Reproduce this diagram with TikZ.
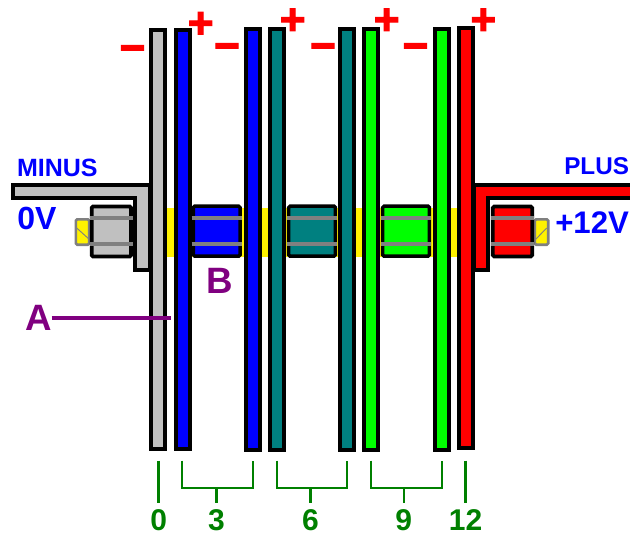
\documentclass[tikz,border=0pt]{standalone}
\usepackage{fontspec}
\setmainfont{Liberation Sans}
\newfontfamily\signfont[BoldFeatures={FakeBold=2.5}]{Liberation Sans}
\definecolor{plategray}{RGB}{192,192,192}
\definecolor{bandgray}{RGB}{128,128,128}
\definecolor{tagpurple}{RGB}{128,0,128}
\definecolor{dimgreen}{RGB}{0,128,0}
\definecolor{tealplate}{RGB}{0,128,128}
\begin{document}
\begin{tikzpicture}[x=0.75pt,y=-0.75pt]
  \tikzstyle{every node}=[inner sep=0pt,outer sep=0pt]
  \tikzstyle{plate}=[rectangle,draw=black,line width=3pt,minimum width=10.5pt]
  \tikzstyle{longplate}=[plate,minimum height=316pt]
  \tikzstyle{shortplate}=[plate,minimum height=314pt]
  \tikzstyle{spacer}=[rectangle,draw=black,line width=2.6pt,rounded corners=1pt,minimum width=35pt,minimum height=37.5pt]
  \tikzstyle{nut}=[rectangle,draw=black,line width=2.8pt,rounded corners=1pt,minimum width=29.5pt,minimum height=37.5pt]
  \tikzstyle{tip}=[rectangle,draw=bandgray,line width=2pt,fill=yellow,rounded corners=1pt,minimum width=10pt,minimum height=19pt]
  \tikzstyle{band}=[draw=bandgray,line width=2.8pt]
  \tikzstyle{bracket}=[draw=black,line width=3pt,line join=miter]
  \tikzstyle{sign}=[text=red,font=\signfont\fontsize{33}{33}\selectfont\bfseries]
  \tikzstyle{wire}=[text=blue,font=\fontsize{18.75}{18.75}\selectfont\bfseries]
  \tikzstyle{volt}=[text=blue,font=\fontsize{24}{24}\selectfont\bfseries]
  \tikzstyle{tag}=[text=tagpurple,font=\fontsize{27.5}{27.5}\selectfont\bfseries]
  \tikzstyle{digit}=[text=dimgreen,font=\fontsize{22.5}{22.5}\selectfont\bfseries]
  \tikzstyle{dim}=[draw=dimgreen,line width=1.7pt]
  \clip (0,0) rectangle (630,535);
  % rod
  \node[rectangle,fill=yellow,minimum width=225pt,minimum height=36.75pt] (rod) at (312,232.5) {};
  % brackets
  \filldraw[bracket,fill=plategray] (13,184.7) -- (150,184.7) -- (150,270.3) -- (135.3,270.3) -- (135.3,198) -- (13,198) -- cycle;
  \filldraw[bracket,fill=red] (640,184.7) -- (474,184.7) -- (474,270.3) -- (488,270.3) -- (488,198) -- (640,198) -- cycle;
  % plates
  \node[shortplate,fill=plategray] (plate0) at (158.3,239.4) {};
  \node[shortplate,fill=blue] (plate1) at (182.5,239.4) {};
  \node[longplate,fill=blue] (plate2) at (252.5,239.4) {};
  \node[longplate,fill=tealplate] (plate3) at (276.5,239.4) {};
  \node[longplate,fill=tealplate] (plate4) at (346.8,239.4) {};
  \node[longplate,fill=green] (plate5) at (371,239.4) {};
  \node[longplate,fill=green] (plate6) at (441.5,239.4) {};
  \node[longplate,minimum height=315pt,fill=red] (plate7) at (465.7,238.4) {};
  % spacers
  \foreach \nm/\x/\col in {blue/216.7/blue,teal/312/tealplate,green/406/green}{
    \node[spacer,fill=\col] (spacer\nm) at (\x,231.2) {};
    \draw[band] (\x-25,218.3) -- (\x+25,218.3);
    \draw[band] (\x-25,244.3) -- (\x+25,244.3);
  }
  % bolt ends
  \node[tip] (tipleft) at (82.5,232) {};
  \draw[bandgray,line width=0.7pt] (76.7,228) -- (90,240);
  \node[tip] (tipright) at (541.5,232) {};
  \draw[bandgray,line width=0.7pt] (535,240) -- (546.7,228);
  \node[nut,fill=plategray] (nutleft) at (111.3,231.5) {};
  \draw[band] (90,218.3) -- (133,218.3);
  \draw[band] (90,244.3) -- (133,244.3);
  \node[nut,fill=red] (nutright) at (512.5,231.5) {};
  \draw[band] (491,218.3) -- (534,218.3);
  \draw[band] (491,244.3) -- (534,244.3);
  % signs
  \foreach \x/\y in {200.7/25,292.7/21.5,386.7/21.5,483.3/21.5}
    \node[sign] at (\x,\y) {+};
  \foreach \x/\y in {132.5/54,227/52,323/52,415.5/52}
    \node[sign] at (\x,\y) {\char"2212};
  % labels
  \node[wire] (minus) at (57.3,168) {MINUS};
  \node[volt] (zero) at (37,218.5) {0V};
  \node[wire,anchor=east,font=\fontsize{18.2}{18.2}\selectfont\bfseries] (plus) at (629,166.5) {PLUS};
  \node[volt,anchor=east,font=\fontsize{23.4}{23.4}\selectfont\bfseries] (twelve) at (629,222.5) {+12V};
  \node[tag] (A) at (38.5,318) {A};
  \node[tag] (B) at (219.5,280.5) {B};
  \coordinate (Aend) at (171,318);
  \draw[tagpurple,line width=2.6pt] (A.east) -- (Aend);
  % single ticks
  \foreach \nm/\x/\lab in {tick0/158.6/0,tick12/465.5/12}{
    \node[digit] (\nm) at (\x,520) {\lab};
    \coordinate (\nm top) at (\x,460.7);
    \coordinate (\nm low) at (\x,502.7);
    \draw[dim] (\nm top) -- (\nm low);
  }
  % pairs
  \foreach \nm/\xa/\xb/\x/\lab in {tick3/182.3/252.7/216.5/3,tick6/276.7/347.3/310.5/6,tick9/370.7/441.7/403.7/9}{
    \node[digit] (\nm) at (\x,520) {\lab};
    \coordinate (\nm a) at (\xa,460.7);
    \coordinate (\nm b) at (\xb,460.7);
    \coordinate (\nm c) at (\x,487.7);
    \coordinate (\nm low) at (\x,502.7);
    \draw[dim] (\nm a) |- (\nm b |- \nm c) -- (\nm b);
    \draw[dim] (\nm c) -- (\nm low);
  }
\end{tikzpicture}
\end{document}
